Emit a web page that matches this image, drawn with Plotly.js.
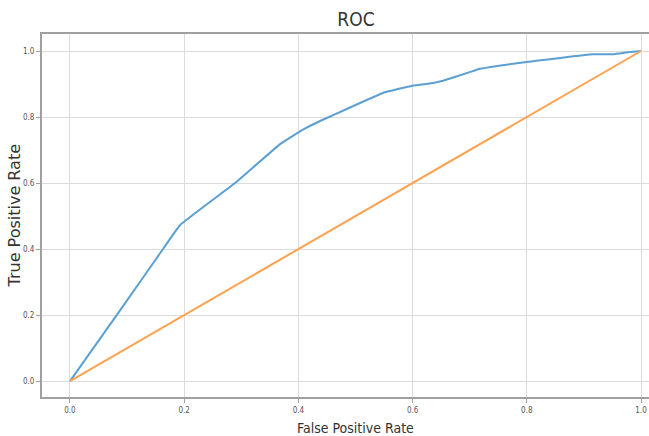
<!DOCTYPE html>
<html>
<head>
<meta charset="utf-8">
<script src="https://cdn.plot.ly/plotly-3.0.1.min.js"></script>
<style>html,body{margin:0;padding:0;background:#fff;}#chart{width:649px;height:436px;}</style>
</head>
<body>
<div id="chart"></div>
<script>
// ROC curve
const fpr = [0.0, 0.088, 0.158, 0.193, 0.289, 0.368, 0.408, 0.438, 0.461, 0.548, 0.60, 0.636, 0.653, 0.70, 0.718, 0.80, 0.916, 0.951, 0.98, 1.0];
const tpr = [0.0, 0.215, 0.388, 0.473, 0.600, 0.718, 0.762, 0.788, 0.806, 0.873, 0.895, 0.903, 0.910, 0.936, 0.946, 0.967, 0.990, 0.990, 0.997, 1.0];
// chance diagonal
const diagX = [0, 1];
const diagY = [0, 1];
const tickVals = [0.0, 0.2, 0.4, 0.6, 0.8, 1.0];
const titleText = 'ROC';
const xTitle = 'False Positive Rate';
const yTitle = 'True Positive Rate';

const traces = [
  {x: fpr, y: tpr, mode: 'lines', line: {color: '#5b9fd3', width: 2, shape: 'spline', smoothing: 0.3}, hoverinfo: 'skip'},
  {x: diagX, y: diagY, mode: 'lines', line: {color: '#ffa24f', width: 2}, hoverinfo: 'skip'}
];

const cond = 'DejaVu Sans Condensed, DejaVu Sans';
const axisCommon = {
  tickvals: tickVals, tickformat: '.1f',
  showgrid: true, gridcolor: '#dcdcdc', gridwidth: 1,
  zeroline: false, showline: true, linecolor: '#a0a0a0', linewidth: 2,
  ticks: 'outside', ticklen: 4, tickcolor: '#a0a0a0', tickwidth: 1,
  tickfont: {family: cond, size: 8, color: '#555'}
};

const layout = {
  width: 649, height: 436,
  margin: {l: 42, r: 0, t: 34, b: 39},
  paper_bgcolor: '#fff', plot_bgcolor: '#fff',
  showlegend: false,
  title: {text: titleText, xref: 'container', x: 0.5485, xanchor: 'center', yref: 'container', y: 0.955, yanchor: 'middle',
          font: {family: cond, size: 19, color: '#333'}},
  xaxis: Object.assign({}, axisCommon, {range: [-0.049, 1.014], mirror: true}),
  yaxis: Object.assign({}, axisCommon, {range: [-0.048, 1.0515], mirror: false}),
  annotations: [
    {text: xTitle, xref: 'paper', yref: 'paper', x: 0.517, y: -0.085, xanchor: 'center', yanchor: 'middle',
     showarrow: false, font: {family: cond, size: 14, color: '#333'}},
    {text: yTitle, xref: 'paper', yref: 'paper', x: -0.0445, y: 0.5, xanchor: 'center', yanchor: 'middle',
     textangle: -90, showarrow: false, font: {family: 'DejaVu Sans', size: 16, color: '#333'}}
  ]
};

Plotly.newPlot('chart', traces, layout, {staticPlot: true, displayModeBar: false});
</script>
</body>
</html>
